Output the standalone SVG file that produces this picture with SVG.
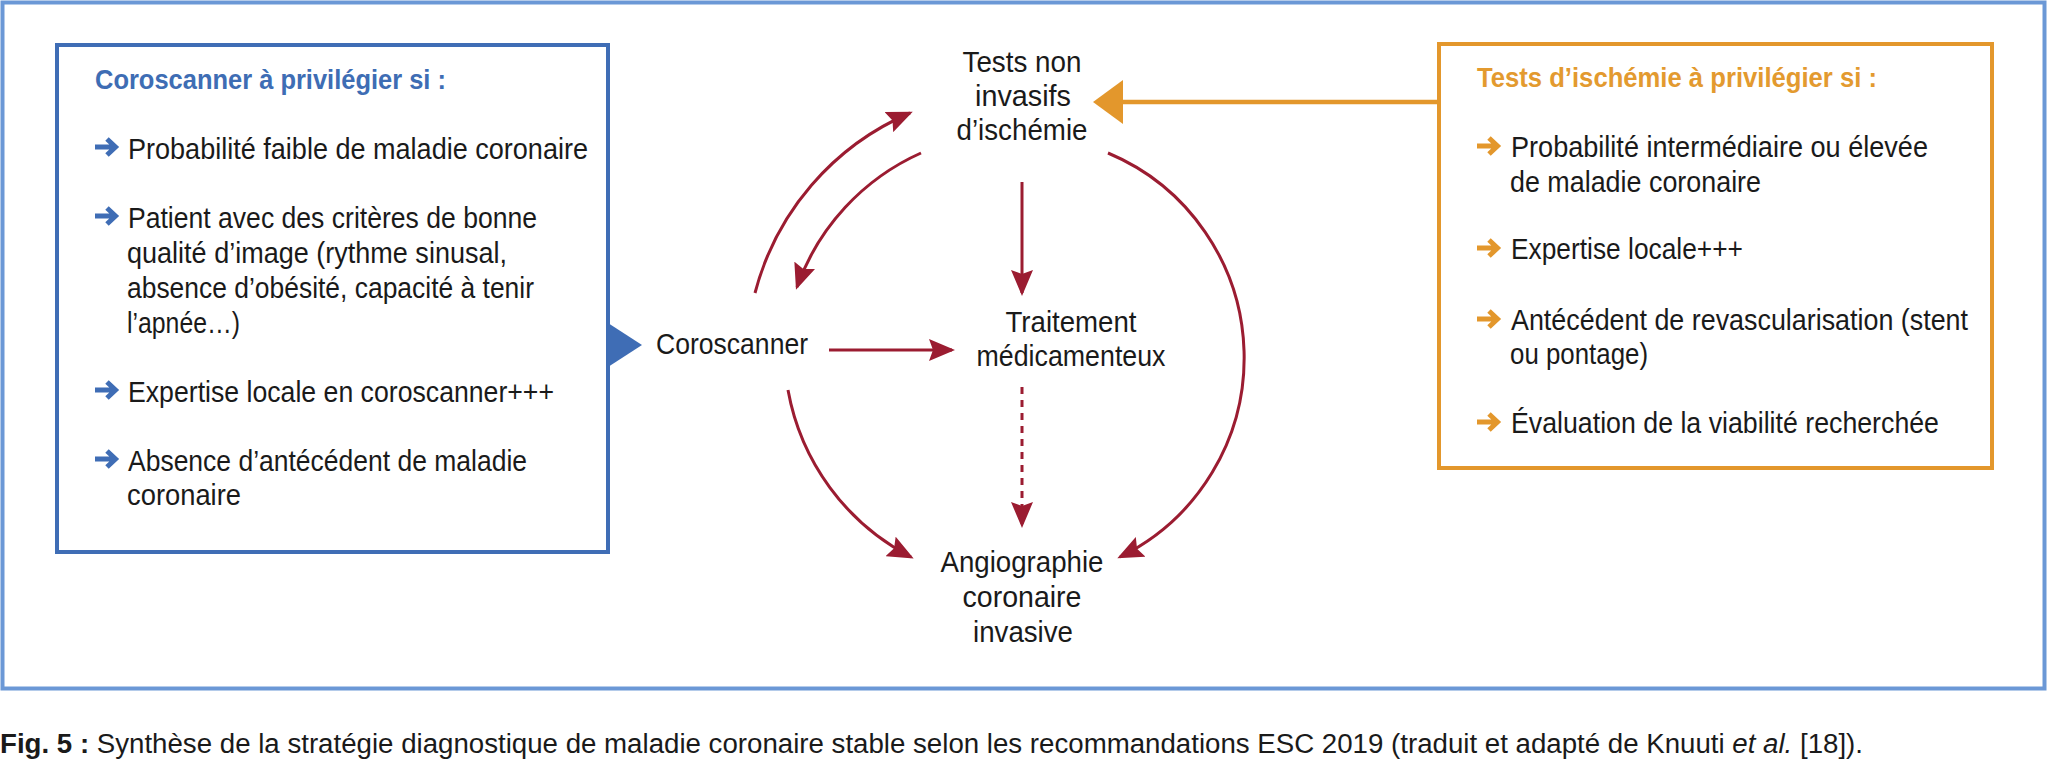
<svg xmlns="http://www.w3.org/2000/svg" xmlns:xlink="http://www.w3.org/1999/xlink" width="2048" height="760" viewBox="0 0 2048 760">
<style>
.t{font-family:"Liberation Sans",Arial,sans-serif;font-size:29.5px;fill:#1a1a1a}
.c{text-anchor:middle}
.tb{font-weight:bold;fill:#3e6db4;font-size:28.5px}
.to{font-weight:bold;fill:#e39a2f;font-size:28.5px}
.conn{fill:none;stroke:#9b1c31;stroke-width:3}
.cap{font-family:"Liberation Sans",Arial,sans-serif;font-size:27px;fill:#1a1a1a}
</style>
<defs>
<marker id="ah" markerUnits="userSpaceOnUse" viewBox="0 0 26 22" markerWidth="26" markerHeight="22" refX="23" refY="11" orient="auto">
<path d="M0,0 L26,11 L0,22 L4,11 Z" fill="#9b1c31"/>
</marker>
<path id="bul" d="M0,0 H19 M12,-8 L20.5,0 L12,8" fill="none" stroke-width="5" stroke-linejoin="miter"/>
</defs>
<rect x="0" y="0" width="2048" height="760" fill="#ffffff"/>
<rect id="frame" x="2.5" y="2.5" width="2042" height="686" fill="none" stroke="#6b98d6" stroke-width="4"/>

<g id="box-left">
<rect x="57" y="45" width="551" height="507" fill="none" stroke="#3f6db5" stroke-width="4"/>
<polygon points="608,323 642,345 608,367" fill="#3f6db5"/>
<text class="t tb" x="95" y="89" textLength="351" lengthAdjust="spacingAndGlyphs">Coroscanner à privilégier si :</text>
<g stroke="#3f6db5">
<use xlink:href="#bul" href="#bul" transform="translate(95,147)"/>
<use xlink:href="#bul" href="#bul" transform="translate(95,216)"/>
<use xlink:href="#bul" href="#bul" transform="translate(95,390)"/>
<use xlink:href="#bul" href="#bul" transform="translate(95,459)"/>
</g>
<text class="t" x="128" y="159" textLength="460" lengthAdjust="spacingAndGlyphs">Probabilité faible de maladie coronaire</text>
<text class="t" x="128" y="228" textLength="409" lengthAdjust="spacingAndGlyphs">Patient avec des critères de bonne</text>
<text class="t" x="127" y="263" textLength="380" lengthAdjust="spacingAndGlyphs">qualité d’image (rythme sinusal,</text>
<text class="t" x="127" y="298" textLength="407" lengthAdjust="spacingAndGlyphs">absence d’obésité, capacité à tenir</text>
<text class="t" x="127" y="333" textLength="113" lengthAdjust="spacingAndGlyphs">l’apnée…)</text>
<text class="t" x="128" y="402" textLength="426" lengthAdjust="spacingAndGlyphs">Expertise locale en coroscanner+++</text>
<text class="t" x="128" y="471" textLength="399" lengthAdjust="spacingAndGlyphs">Absence d’antécédent de maladie</text>
<text class="t" x="127" y="505" textLength="114" lengthAdjust="spacingAndGlyphs">coronaire</text>
</g>

<g id="box-right">
<rect x="1439" y="44" width="553" height="424" fill="none" stroke="#e3972c" stroke-width="4"/>
<text class="t to" x="1477" y="87" textLength="400" lengthAdjust="spacingAndGlyphs">Tests d’ischémie à privilégier si :</text>
<g stroke="#e3972c">
<use xlink:href="#bul" href="#bul" transform="translate(1477,146)"/>
<use xlink:href="#bul" href="#bul" transform="translate(1477,248)"/>
<use xlink:href="#bul" href="#bul" transform="translate(1477,319)"/>
<use xlink:href="#bul" href="#bul" transform="translate(1477,422)"/>
</g>
<text class="t" x="1511" y="157" textLength="417" lengthAdjust="spacingAndGlyphs">Probabilité intermédiaire ou élevée</text>
<text class="t" x="1510" y="192" textLength="251" lengthAdjust="spacingAndGlyphs">de maladie coronaire</text>
<text class="t" x="1511" y="259" textLength="232" lengthAdjust="spacingAndGlyphs">Expertise locale+++</text>
<text class="t" x="1511" y="330" textLength="457" lengthAdjust="spacingAndGlyphs">Antécédent de revascularisation (stent</text>
<text class="t" x="1510" y="364" textLength="138" lengthAdjust="spacingAndGlyphs">ou pontage)</text>
<text class="t" x="1511" y="433" textLength="428" lengthAdjust="spacingAndGlyphs">Évaluation de la viabilité recherchée</text>
</g>

<g id="n-tests">
<text class="t c" x="1022" y="72" textLength="119" lengthAdjust="spacingAndGlyphs">Tests non</text>
<text class="t c" x="1023" y="106" textLength="96" lengthAdjust="spacingAndGlyphs">invasifs</text>
<text class="t c" x="1022" y="140" textLength="131" lengthAdjust="spacingAndGlyphs">d’ischémie</text>
</g>
<g id="n-coro">
<text class="t" x="656" y="354" textLength="152" lengthAdjust="spacingAndGlyphs">Coroscanner</text>
</g>
<g id="n-trait">
<text class="t c" x="1071" y="332" textLength="131" lengthAdjust="spacingAndGlyphs">Traitement</text>
<text class="t c" x="1071" y="366" textLength="189" lengthAdjust="spacingAndGlyphs">médicamenteux</text>
</g>
<g id="n-angio">
<text class="t c" x="1022" y="572" textLength="163" lengthAdjust="spacingAndGlyphs">Angiographie</text>
<text class="t c" x="1022" y="607" textLength="119" lengthAdjust="spacingAndGlyphs">coronaire</text>
<text class="t c" x="1023" y="642" textLength="100" lengthAdjust="spacingAndGlyphs">invasive</text>
</g>

<g id="connectors">
<line x1="1439" y1="102" x2="1121" y2="102" stroke="#e3972c" stroke-width="4.5"/>
<polygon points="1093,102 1123,80 1123,124" fill="#e3972c"/>
<path class="conn" d="M755,293 A270,270 0 0 1 910,113" marker-end="url(#ah)"/>
<path class="conn" d="M921,153 A232,232 0 0 0 797,287" marker-end="url(#ah)"/>
<path class="conn" d="M1022,182 V293" marker-end="url(#ah)"/>
<path class="conn" d="M829,350 H952" marker-end="url(#ah)"/>
<path class="conn" d="M1022,387 V525" stroke-dasharray="7,6" marker-end="url(#ah)"/>
<path class="conn" d="M788,390 A235,235 0 0 0 911,557" marker-end="url(#ah)"/>
<path class="conn" d="M1108,153 A222,222 0 0 1 1120,557" marker-end="url(#ah)"/>
</g>

<g id="caption">
<text class="cap" x="0" y="753" textLength="1863" lengthAdjust="spacingAndGlyphs"><tspan font-weight="bold">Fig. 5 :</tspan> Synthèse de la stratégie diagnostique de maladie coronaire stable selon les recommandations ESC 2019 (traduit et adapté de Knuuti <tspan font-style="italic">et al.</tspan> [18]).</text>
</g>
</svg>
